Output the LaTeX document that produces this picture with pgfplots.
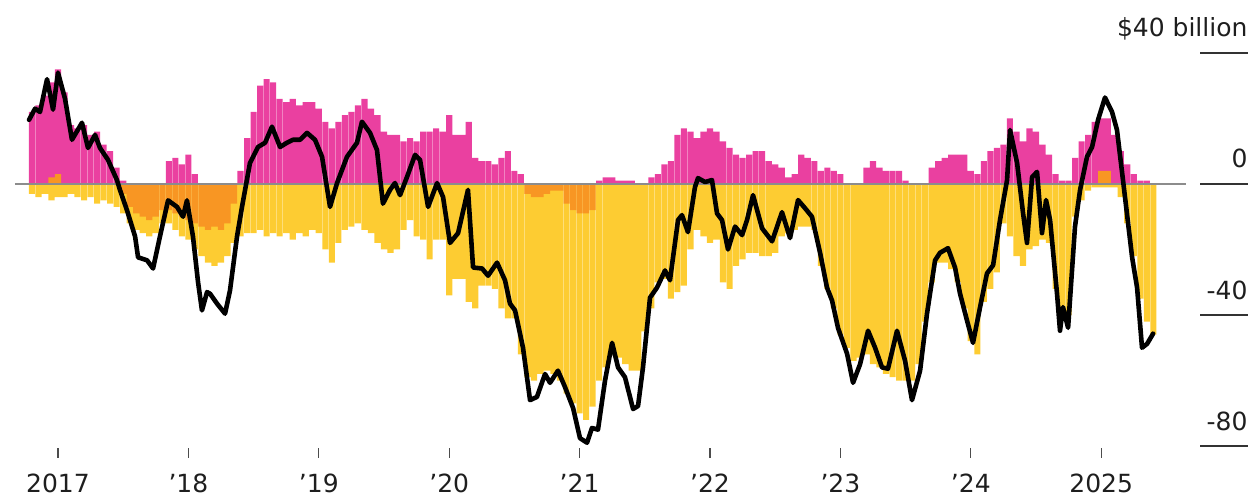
\documentclass[border=0pt]{standalone}
\usepackage{pgfplots}
\pgfplotsset{compat=1.18}
\usepackage{pgfplotstable}
\usepackage{fontspec}
\setmainfont{DejaVu Sans}
\definecolor{pinkc}{RGB}{234,64,160}
\definecolor{orangec}{RGB}{248,150,35}
\definecolor{yellowc}{RGB}{253,204,50}
\definecolor{txt}{RGB}{30,30,30}
\definecolor{zeroc}{RGB}{140,140,140}

\pgfplotstableread{
x P Op On Y
2016.80 22 0 0 -3
2016.85 24 0 0 -4
2016.90 27 0 0 -3
2016.95 31 2 0 -5
2017.00 35 3 0 -4
2017.05 28 0 0 -4
2017.10 18 0 0 -3
2017.15 17 0 0 -4
2017.20 18 0 0 -5
2017.25 15 0 0 -4
2017.30 16 0 0 -6
2017.35 12 0 0 -5
2017.40 10 0 0 -6
2017.45 5 0 0 -7
2017.50 1 0 -3 -9
2017.55 0 0 -7 -12
2017.60 0 0 -9 -14
2017.65 0 0 -10 -15
2017.70 0 0 -11 -16
2017.75 0 0 -10 -15
2017.80 0 0 -8 -12
2017.85 7 0 -8 -12
2017.90 8 0 -9 -14
2017.95 6 0 -10 -16
2018.00 9 0 -11 -17
2018.05 3 0 -12 -20
2018.10 0 0 -13 -22
2018.15 0 0 -14 -24
2018.20 0 0 -13 -25
2018.25 0 0 -14 -24
2018.30 0 0 -12 -22
2018.35 0 0 -6 -18
2018.40 4 0 0 -16
2018.45 14 0 0 -15
2018.50 22 0 0 -15
2018.55 30 0 0 -14
2018.60 32 0 0 -16
2018.65 31 0 0 -15
2018.70 26 0 0 -16
2018.75 25 0 0 -15
2018.80 26 0 0 -17
2018.85 24 0 0 -15
2018.90 25 0 0 -16
2018.95 25 0 0 -14
2019.00 23 0 0 -15
2019.05 19 0 0 -20
2019.10 17 0 0 -24
2019.15 19 0 0 -18
2019.20 21 0 0 -14
2019.25 22 0 0 -13
2019.30 24 0 0 -12
2019.35 26 0 0 -14
2019.40 23 0 0 -15
2019.45 21 0 0 -18
2019.50 16 0 0 -20
2019.55 15 0 0 -21
2019.60 15 0 0 -20
2019.65 13 0 0 -14
2019.70 14 0 0 -11
2019.75 13 0 0 -16
2019.80 16 0 0 -17
2019.85 16 0 0 -23
2019.90 17 0 0 -17
2019.95 16 0 0 -17
2020.00 21 0 0 -34
2020.05 15 0 0 -29
2020.10 15 0 0 -29
2020.15 19 0 0 -36
2020.20 8 0 0 -38
2020.25 7 0 0 -31
2020.30 7 0 0 -31
2020.35 6 0 0 -32
2020.40 8 0 0 -38
2020.45 10 0 0 -41
2020.50 4 0 0 -41
2020.55 3 0 0 -52
2020.60 0 0 -3 -59
2020.65 0 0 -4 -60
2020.70 0 0 -4 -58
2020.75 0 0 -3 -57
2020.80 0 0 -2 -58
2020.85 0 0 -2 -60
2020.90 0 0 -6 -64
2020.95 0 0 -8 -67
2021.00 0 0 -9 -70
2021.05 0 0 -9 -72
2021.10 0 0 -8 -68
2021.15 1 0 0 -60
2021.20 2 0 0 -56
2021.25 2 0 0 -52
2021.30 1 0 0 -53
2021.35 1 0 0 -55
2021.40 1 0 0 -57
2021.45 0 0 0 -57
2021.50 0 0 0 -45
2021.55 2 0 0 -38
2021.60 3 0 0 -30
2021.65 6 0 0 -29
2021.70 7 0 0 -35
2021.75 15 0 0 -33
2021.80 17 0 0 -31
2021.85 16 0 0 -20
2021.90 14 0 0 -14
2021.95 16 0 0 -16
2022.00 17 0 0 -18
2022.05 16 0 0 -17
2022.10 13 0 0 -30
2022.15 11 0 0 -32
2022.20 9 0 0 -25
2022.25 8 0 0 -23
2022.30 9 0 0 -21
2022.35 10 0 0 -21
2022.40 10 0 0 -22
2022.45 7 0 0 -22
2022.50 6 0 0 -21
2022.55 5 0 0 -16
2022.60 2 0 0 -15
2022.65 3 0 0 -14
2022.70 9 0 0 -13
2022.75 8 0 0 -13
2022.80 7 0 0 -14
2022.85 4 0 0 -25
2022.90 5 0 0 -32
2022.95 4 0 0 -38
2023.00 3 0 0 -46
2023.05 0 0 0 -50
2023.10 0 0 0 -54
2023.15 0 0 0 -53
2023.20 5 0 0 -52
2023.25 7 0 0 -55
2023.30 5 0 0 -56
2023.35 4 0 0 -58
2023.40 4 0 0 -59
2023.45 4 0 0 -60
2023.50 1 0 0 -60
2023.55 0 0 0 -60
2023.60 0 0 0 -55
2023.65 0 0 0 -42
2023.70 5 0 0 -30
2023.75 7 0 0 -24
2023.80 8 0 0 -24
2023.85 9 0 0 -26
2023.90 9 0 0 -30
2023.95 9 0 0 -38
2024.00 4 0 0 -48
2024.05 3 0 0 -52
2024.10 7 0 0 -36
2024.15 10 0 0 -32
2024.20 11 0 0 -27
2024.25 12 0 0 -12
2024.30 20 0 0 -16
2024.35 16 0 0 -22
2024.40 13 0 0 -25
2024.45 17 0 0 -20
2024.50 16 0 0 -19
2024.55 12 0 0 -17
2024.60 9 0 0 -18
2024.65 3 0 0 -32
2024.70 1 0 0 -38
2024.75 1 0 0 -40
2024.80 8 0 0 -10
2024.85 13 0 0 -5
2024.90 15 0 0 -2
2024.95 19 0 0 -1
2025.00 20 4 0 -1
2025.05 20 4 0 -1
2025.10 15 0 0 -1
2025.15 10 0 0 -4
2025.20 6 0 0 -12
2025.25 3 0 0 -22
2025.30 1 0 0 -35
2025.35 1 0 0 -42
2025.40 0 0 0 -46
}\bars

\pgfplotstableread{
x v
2016.778 19.6
2016.824 23
2016.862 22
2016.916 32
2016.962 22.7
2017.000 34
2017.054 26
2017.107 13.5
2017.184 18.7
2017.230 11
2017.284 15
2017.322 11
2017.383 7.4
2017.452 1.2
2017.475 -1.8
2017.529 -8
2017.591 -16
2017.614 -22.4
2017.683 -23.3
2017.729 -25.8
2017.782 -16
2017.844 -5
2017.913 -7
2017.959 -10
2017.989 -5
2018.035 -16
2018.074 -30
2018.104 -38.6
2018.143 -33
2018.166 -33.5
2018.219 -36.5
2018.281 -39.6
2018.319 -32.5
2018.373 -16
2018.411 -7
2018.472 6.4
2018.534 11.3
2018.588 12.6
2018.641 17.5
2018.703 11.3
2018.756 12.6
2018.802 13.5
2018.856 13.5
2018.910 15.6
2018.971 13.5
2019.025 8.3
2019.086 -7
2019.140 0.3
2019.216 8.3
2019.293 12.6
2019.331 19
2019.393 15.6
2019.446 10.4
2019.492 -6
2019.546 -1.8
2019.584 0.3
2019.623 -3.4
2019.676 2.1
2019.738 8.9
2019.776 7.4
2019.838 -7
2019.907 0.3
2019.953 -4
2020.006 -18
2020.068 -15
2020.144 -1.8
2020.183 -25.5
2020.252 -25.8
2020.298 -28
2020.367 -24
2020.428 -29.4
2020.466 -36.5
2020.505 -38.6
2020.566 -50
2020.620 -66
2020.673 -65
2020.735 -58
2020.773 -60.7
2020.834 -57
2020.888 -62
2020.950 -68.4
2021.003 -77.6
2021.057 -79
2021.095 -74.5
2021.141 -75
2021.195 -60
2021.249 -48.5
2021.295 -56
2021.348 -59
2021.410 -68.7
2021.448 -67.8
2021.486 -56
2021.540 -34.7
2021.594 -31.6
2021.655 -26.4
2021.693 -29.4
2021.755 -11
2021.785 -9.5
2021.831 -14.7
2021.885 -0.9
2021.908 1.8
2021.962 0.6
2022.015 1.2
2022.054 -9
2022.092 -11
2022.138 -20
2022.192 -13
2022.246 -15.6
2022.284 -11
2022.330 -3.4
2022.399 -13.5
2022.476 -17.5
2022.552 -8.6
2022.614 -16.5
2022.675 -4.9
2022.729 -7.4
2022.782 -10
2022.844 -21
2022.897 -31.6
2022.936 -35.6
2022.982 -44
2023.051 -51.8
2023.097 -60.7
2023.151 -55
2023.212 -44.8
2023.266 -50
2023.319 -56
2023.365 -56.4
2023.434 -44.8
2023.496 -54
2023.549 -66
2023.611 -57
2023.664 -39.6
2023.726 -23.3
2023.764 -21
2023.825 -19.6
2023.879 -25.5
2023.917 -33.4
2023.971 -41.7
2024.017 -48.5
2024.071 -37.6
2024.124 -27.3
2024.171 -24.8
2024.224 -11
2024.278 1.2
2024.301 16.5
2024.355 6.4
2024.401 -9
2024.431 -18
2024.470 2.1
2024.508 3.7
2024.546 -15
2024.577 -4.9
2024.608 -11
2024.661 -33.4
2024.684 -44.8
2024.707 -37.6
2024.746 -43.9
2024.799 -13
2024.838 -1.8
2024.891 8.3
2024.930 11.3
2024.976 19.6
2025.029 26.4
2025.083 22
2025.121 16.5
2025.167 1.2
2025.237 -22.4
2025.275 -31.6
2025.313 -50
2025.352 -48.8
2025.398 -45.7
}\net

\begin{document}
\begin{tikzpicture}
\pgfplotsset{
  common/.style={
    scale only axis, width=600pt, height=229pt,
    xmin=2016.5552, xmax=2025.7577, ymin=-83.66, ymax=56.18,
    axis line style={draw=none},
  },
  bars/.style={ybar, bar shift=0pt, bar width=0.047, draw=none},
}
\begin{axis}[common,
  xtick={2017,2018,2019,2020,2021,2022,2023,2024,2025},
  xticklabels={2017,'18,'19,'20,'21,'22,'23,'24,2025},
  xtick pos=left, tick align=inside, major tick length=5pt,
  tick style={color=black!70, line width=0.55pt},
  ytick=\empty,
  xticklabel style={font=\fontsize{12.5}{15}\selectfont, text=txt, inner sep=0pt, yshift=-8pt},
]
\addplot[bars, fill=yellowc] table[x=x,y=Y]{\bars};
\addplot[bars, fill=orangec] table[x=x,y=On]{\bars};
\addplot[bars, fill=pinkc] table[x=x,y=P]{\bars};
\addplot[bars, fill=orangec] table[x=x,y=Op]{\bars};
\addplot[zeroc, line width=0.7pt] coordinates {(2016.670,0) (2025.652,0)};
\addplot[black, line width=2.3pt, line join=round, line cap=round] table[x=x,y=v]{\net};
\coordinate (bl) at (rel axis cs:0,0);
\coordinate (tr) at (rel axis cs:1,1);
\end{axis}
\begin{axis}[common,
  xtick=\empty,
  ytick={-80,-40,0,40},
  yticklabels={-80,-40,0,\$40 billion},
  ytick pos=right, yticklabel pos=right,
  tick align=outside, major tick length=24pt,
  tick style={color=black!80, line width=0.65pt},
  yticklabel style={font=\fontsize{12.5}{15}\selectfont, text=txt, anchor=base east, inner sep=0pt, yshift=8pt},
]
\end{axis}
\pgfresetboundingbox
\path[use as bounding box] ([yshift=-19.5pt]bl) rectangle ([xshift=26.5pt]tr);
\end{tikzpicture}
\end{document}
